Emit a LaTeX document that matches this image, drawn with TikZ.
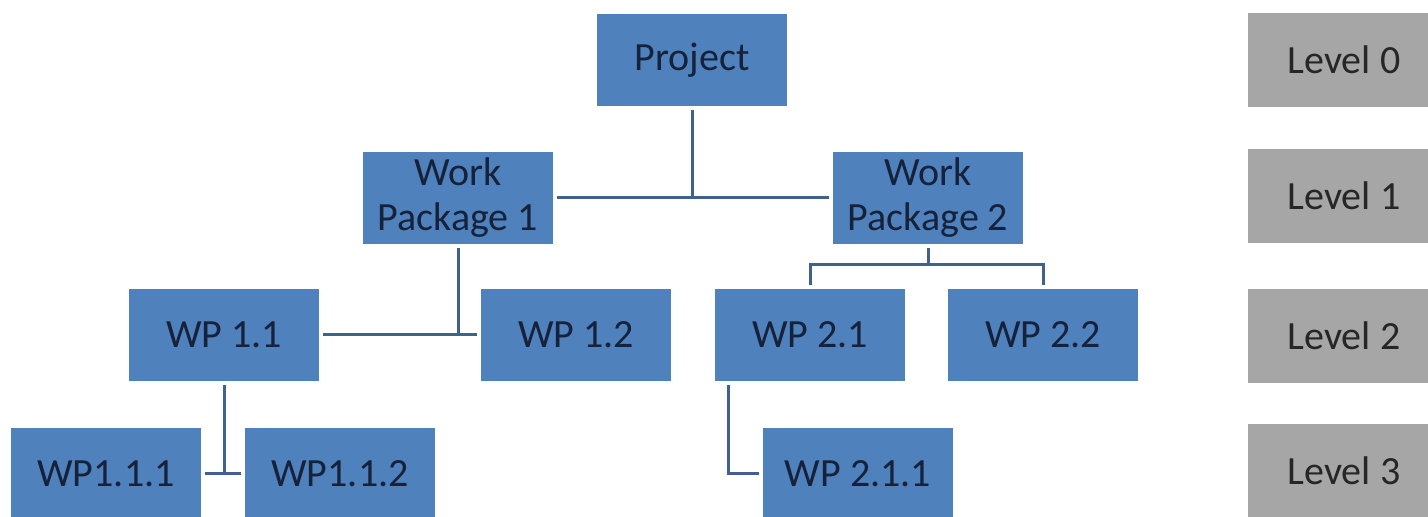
\documentclass[tikz,border=0pt]{standalone}
\usepackage{fontspec}
\setmainfont{Carlito}
\usepackage{xcolor}
\usepackage{tikz}
\definecolor{wpblue}{HTML}{4F81BD}
\definecolor{lvgray}{HTML}{A6A6A6}
\definecolor{wpline}{HTML}{42608E}
\definecolor{wptext}{HTML}{16213A}
\tikzstyle{wp}=[rectangle,fill=wpblue,text=wptext,minimum width=95pt,minimum height=46pt,outer sep=2pt,align=center,font=\fontsize{20}{22.5}\selectfont]
\tikzstyle{level}=[rectangle,fill=lvgray,text=black!85,minimum width=96pt,minimum height=47pt,font=\fontsize{20}{22.5}\selectfont]
\tikzstyle{link}=[draw=wpline,line width=1.5pt]

\begin{document}
\begin{tikzpicture}[x=0.5pt,y=-0.5pt]
        \useasboundingbox (0,0) rectangle (1428,517);

        \node at (692,60)   [wp] (proj)  {Project};
        \node at (458,198)  [wp] (wp1)   {Work\\Package 1};
        \node at (928,198)  [wp] (wp2)   {Work\\Package 2};
        \node at (224,335)  [wp] (wp11)  {WP 1.1};
        \node at (576,335)  [wp] (wp12)  {WP 1.2};
        \node at (810,335)  [wp] (wp21)  {WP 2.1};
        \node at (1043,335) [wp] (wp22)  {WP 2.2};
        \node at (106,474)  [wp] (wp111) {WP1.1.1};
        \node at (340,474)  [wp] (wp112) {WP1.1.2};
        \node at (858,474)  [wp] (wp211) {WP 2.1.1};

        \node at (1344,60)  [level] (l0) {Level 0};
        \node at (1344,196) [level] (l1) {Level 1};
        \node at (1344,336) [level] (l2) {Level 2};
        \node at (1344,471) [level] (l3) {Level 3};

        \coordinate (b2) at (928,265);

        \draw [link] (wp1) -- (wp2);
        \draw [link] (proj) -- (proj |- wp1);
        \draw [link] (wp11) -- (wp12);
        \draw [link] (wp1) -- (wp1 |- wp11);
        \draw [link] (wp2) -- (b2);
        \draw [link] (wp21) |- (b2) -| (wp22);
        \draw [link] (wp111) -- (wp112);
        \draw [link] (wp11) -- (wp11 |- wp111);
        \draw [link] ([xshift=8.5pt]wp21.south west) |- (wp211);
      \end{tikzpicture}
\end{document}
